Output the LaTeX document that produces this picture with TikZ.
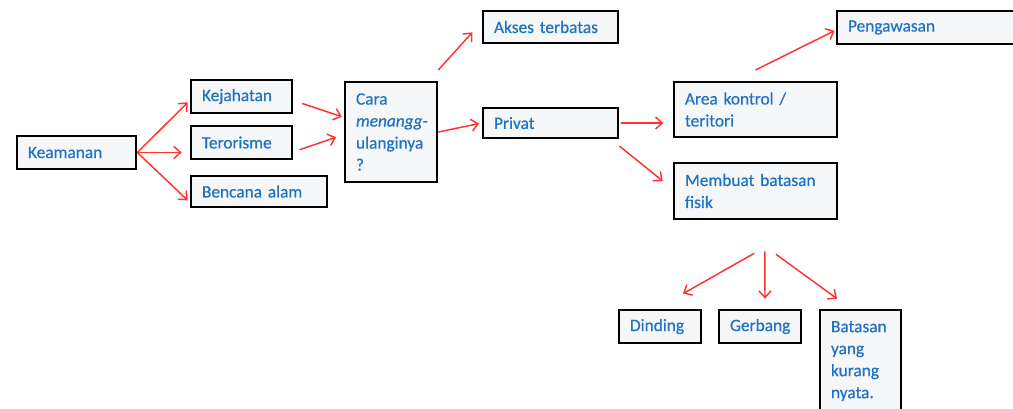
\documentclass[tikz,border=0pt]{standalone}
\usepackage{fontspec}
\setmainfont{Carlito}
\newfontfamily\boxfont{Carlito}[FakeBold=0.6]
\usepackage{tikz}
\usetikzlibrary{arrows.meta}

\definecolor{txtblue}{RGB}{32,115,195}
\definecolor{arrred}{RGB}{255,50,50}
\definecolor{boxfill}{RGB}{246,247,248}

\begin{document}
\begin{tikzpicture}[x=0.75pt,y=-0.75pt,
  box/.style={draw, line width=2pt, fill=boxfill, anchor=center, align=left,
    inner xsep=8.25pt, inner ysep=0pt, text=txtblue,
    font=\boxfont\fontsize{13}{16.5}\selectfont},
  link/.style={->,>={Straight Barb[length=5pt,width=9pt]}, draw=arrred, line width=1.1pt}]
\useasboundingbox (0,0) rectangle (1013,408);
\clip (0,0) rectangle (1013,408);

\node[box, text width=72.75pt, minimum height=24.75pt] (1) at (76.5,152.5)
{Keamanan};

\node[box, text width=59.25pt, minimum height=24.75pt] (2) at (241.5,96.5)
{Kejahatan};

\node[box, text width=59.25pt, minimum height=24.75pt] (3) at (241.5,142.5)
{Terorisme};

\node[box, text width=85.5pt, minimum height=23.25pt] (4) at (259,191.5)
{Bencana alam};

\node[box, text width=52.5pt, minimum height=75pt] (5) at (391,132)
{Cara\\ \mbox{\itshape menangg-}\\ ulanginya\\ ?};

\node[box, text width=84.75pt, minimum height=24pt] (6) at (550.5,27)
{Akses terbatas};

\node[box, text width=84.75pt, minimum height=22.5pt] (7) at (550.5,123)
{Privat};

\node[box, text width=120pt, minimum height=24.75pt] (8) at (928,27.5)
{Pengawasan};

\node[box, text width=105.75pt, minimum height=41.25pt] (9) at (755.5,109.5)
{Area kontrol /\\ teritori};

\node[box, text width=105.75pt, minimum height=42pt] (10) at (755.5,191)
{Membuat batasan\\ fisik};

\node[box, text width=45pt, minimum height=24.75pt] (11) at (660,326.5)
{Dinding};

\node[box, text width=45pt, minimum height=24.75pt] (12) at (760,326.5)
{Gerbang};

\node[box, text width=44.25pt, minimum height=76.5pt] (13) at (860.5,361)
{Batasan\\ yang\\ kurang\\ nyata.};


\draw[link, shorten >=2pt] (1.east) -- ([yshift=-3pt]2.west);

\draw[link, shorten >=6pt] (1.east) -- (1.east -| 3.west);

\draw[link, shorten >=2pt] (1.east) -- ([yshift=-8pt]4.west);

\draw[link, shorten <=7pt, shorten >=1.5pt] ([yshift=-3pt]2.east) -- ([yshift=11pt]5.west);

\draw[link, shorten <=5pt, shorten >=6pt] ([yshift=-7pt]3.east) -- ([yshift=-2pt]5.west);

\draw[link] ([yshift=8pt]5.north east) -- ([xshift=-7pt,yshift=9pt]6.south west);

\draw[link, shorten >=2pt] (5.east) -- (7.west);

\draw[link, shorten <=1pt, shorten >=7pt] (7.east) -- (7.east -| 9.west);

\draw[link] ([yshift=-5pt]7.south east) -- ([xshift=-7.5pt,yshift=7.5pt]10.west);

\draw[link, shorten >=1pt] ([yshift=8pt]9.north) -- ([yshift=-2pt]8.west);

\draw[link] ([xshift=-1pt,yshift=-24.75pt]10.south) -- ([xshift=17.25pt,yshift=11.25pt]11.north);

\draw[link] ([xshift=7pt,yshift=-23.25pt]10.south) -- ([xshift=3.75pt,yshift=7.5pt]12.north);

\draw[link] ([xshift=15.4pt,yshift=-25.5pt]10.south) -- ([xshift=-17.6pt,yshift=7.5pt]13.north);
\end{tikzpicture}
\end{document}
